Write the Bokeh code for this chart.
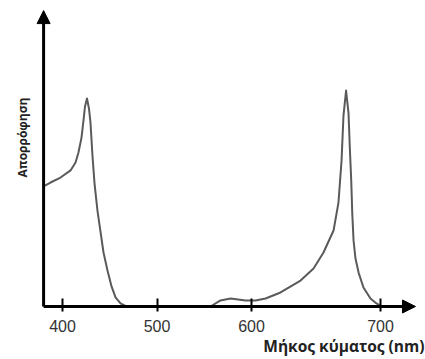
import numpy as np
from math import pi
from bokeh.plotting import figure
from bokeh.models import Arrow, NormalHead, Label, FixedTicker, Range1d, ColumnDataSource
from bokeh.embed import file_html
from bokeh.resources import INLINE

# Absorption spectrum (wavelength in nm, relative absorbance)
wavelength = [379.9, 387.3, 397.9, 408.5, 413.8, 416.9, 420.1, 422.2, 423.8, 425.9,
              428.0, 429.6, 431.7, 433.9, 437.0, 440.2, 443.4, 447.6, 451.9, 456.1,
              461.4, 467.7, 556.6, 567.2, 577.8, 593.7, 603.1, 610.9, 622.5, 638.0,
              648.1, 655.8, 663.6, 667.4, 669.8, 671.3, 673.3, 675.2, 676.2, 677.3,
              678.1, 679.1, 680.6, 683.0, 686.8, 692.2, 696.9, 700.8]
absorbance = [0.556, 0.574, 0.597, 0.630, 0.667, 0.713, 0.782, 0.861, 0.926, 0.963,
              0.917, 0.852, 0.699, 0.569, 0.444, 0.347, 0.250, 0.167, 0.093, 0.042,
              0.014, 0.0, 0.0, 0.028, 0.037, 0.028, 0.028, 0.037, 0.065, 0.120,
              0.176, 0.250, 0.352, 0.481, 0.676, 0.884, 1.0, 0.894, 0.736, 0.583,
              0.431, 0.306, 0.222, 0.157, 0.088, 0.037, 0.014, 0.0]

tick_values = [400, 500, 600, 700]
tick_labels = ["400", "500", "600", "700"]

# The drawing's wavelength axis is not uniform: 600-700 is stretched.
axis_nm = [300, 400, 500, 600, 700, 800]
axis_pos = [300, 400, 500, 600, 736.5, 873]

def to_axis(v):
    return np.interp(v, axis_nm, axis_pos)

x_lo, x_hi = 334.4, 784.1          # visible span of the axis coordinate
y_lo, y_hi = -0.2454, 1.4167
x_axis_start, x_axis_tip = 380, 773.5
y_axis_tip = 1.37

p = figure(width=425, height=359, output_backend="svg", toolbar_location=None,
           x_range=Range1d(x_lo, x_hi), y_range=Range1d(y_lo, y_hi),
           y_axis_location=None, min_border_left=0, min_border_right=0,
           min_border_top=0, min_border_bottom=0)
p.grid.visible = False
p.outline_line_color = None
p.background_fill_color = "white"
p.border_fill_color = "white"

src = ColumnDataSource(dict(x=to_axis(wavelength), y=absorbance))
p.line("x", "y", source=src, line_color="#5a5a5a", line_width=2, line_join="round")

ax = p.xaxis[0]
ax.fixed_location = 0
ax.ticker = FixedTicker(ticks=list(to_axis(tick_values)))
ax.major_label_overrides = {float(t): l for t, l in zip(to_axis(tick_values), tick_labels)}
ax.axis_line_color = None
ax.major_tick_in = 8
ax.major_tick_out = 5
ax.major_tick_line_width = 2
ax.major_tick_line_color = "black"
ax.minor_tick_line_color = None
ax.major_label_standoff = 9
ax.major_label_text_font = "Liberation Sans"
ax.major_label_text_font_size = "16px"
ax.major_label_text_color = "#333333"

p.add_layout(Arrow(end=NormalHead(size=13, fill_color="black", line_color="black", line_width=1),
                   x_start=x_axis_start, y_start=0, x_end=x_axis_start, y_end=y_axis_tip,
                   line_width=3, line_color="black"))
p.add_layout(Arrow(end=NormalHead(size=13, fill_color="black", line_color="black", line_width=1),
                   x_start=x_axis_start, y_start=0, x_end=x_axis_tip, y_end=0,
                   line_width=3, line_color="black"))

p.add_layout(Label(x=22, y=222, x_units="screen", y_units="screen", text="Απορρόφηση",
                   angle=pi / 2, text_align="center", text_baseline="middle",
                   text_font="Open Sans", text_font_style="bold",
                   text_font_size="12px", text_color="#222222"))
p.add_layout(Label(x=424, y=14, x_units="screen", y_units="screen",
                   text="Μήκος κύματος (nm)", text_align="right", text_baseline="middle",
                   text_font="Open Sans", text_font_style="bold",
                   text_font_size="15.5px", text_color="#222222"))

open("out.html", "w").write(file_html(p, INLINE))
